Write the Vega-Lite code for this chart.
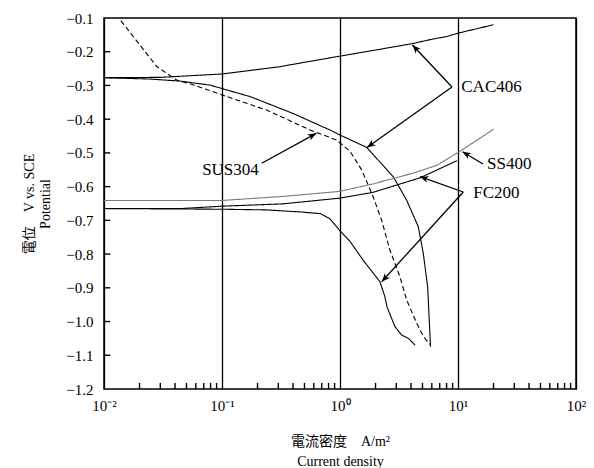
{
  "$schema": "https://vega.github.io/schema/vega-lite/v6.json",
  "width": 472,
  "height": 371,
  "autosize": "none",
  "padding": {"left": 104, "top": 18, "right": 18, "bottom": 79},
  "background": "white",
  "config": {
    "view": {"stroke": "black", "strokeWidth": 1.5},
    "font": "Liberation Serif, Noto Sans CJK JP"
  },
  "resolve": {"axis": {"x": "independent", "y": "independent"}},
  "datasets": {
    "curves": [
      {"series": "CAC406a", "x": 0.01, "y": -0.277},
      {"series": "CAC406a", "x": 0.03, "y": -0.276},
      {"series": "CAC406a", "x": 0.1, "y": -0.266},
      {"series": "CAC406a", "x": 0.3, "y": -0.245},
      {"series": "CAC406a", "x": 1, "y": -0.213},
      {"series": "CAC406a", "x": 2, "y": -0.195},
      {"series": "CAC406a", "x": 4.1, "y": -0.176},
      {"series": "CAC406a", "x": 6, "y": -0.163},
      {"series": "CAC406a", "x": 8, "y": -0.155},
      {"series": "CAC406a", "x": 10, "y": -0.145},
      {"series": "CAC406a", "x": 20, "y": -0.12},
      {"series": "CAC406b", "x": 0.01, "y": -0.277},
      {"series": "CAC406b", "x": 0.0245, "y": -0.281},
      {"series": "CAC406b", "x": 0.044, "y": -0.287},
      {"series": "CAC406b", "x": 0.079, "y": -0.299},
      {"series": "CAC406b", "x": 0.173, "y": -0.333},
      {"series": "CAC406b", "x": 0.4, "y": -0.383},
      {"series": "CAC406b", "x": 0.82, "y": -0.432},
      {"series": "CAC406b", "x": 1.0, "y": -0.447},
      {"series": "CAC406b", "x": 1.69, "y": -0.484},
      {"series": "CAC406b", "x": 2.18, "y": -0.527},
      {"series": "CAC406b", "x": 2.83, "y": -0.571},
      {"series": "CAC406b", "x": 3.67, "y": -0.64},
      {"series": "CAC406b", "x": 4.61, "y": -0.719},
      {"series": "CAC406b", "x": 5.08, "y": -0.798},
      {"series": "CAC406b", "x": 5.53, "y": -0.897},
      {"series": "CAC406b", "x": 5.85, "y": -1.075},
      {"series": "SUS304", "x": 0.0139, "y": -0.108},
      {"series": "SUS304", "x": 0.028, "y": -0.244},
      {"series": "SUS304", "x": 0.0413, "y": -0.284},
      {"series": "SUS304", "x": 0.057, "y": -0.298},
      {"series": "SUS304", "x": 0.1, "y": -0.328},
      {"series": "SUS304", "x": 0.239, "y": -0.373},
      {"series": "SUS304", "x": 0.557, "y": -0.432},
      {"series": "SUS304", "x": 0.938, "y": -0.462},
      {"series": "SUS304", "x": 1.22, "y": -0.496},
      {"series": "SUS304", "x": 1.53, "y": -0.551},
      {"series": "SUS304", "x": 1.91, "y": -0.63},
      {"series": "SUS304", "x": 2.25, "y": -0.699},
      {"series": "SUS304", "x": 2.65, "y": -0.788},
      {"series": "SUS304", "x": 3.22, "y": -0.867},
      {"series": "SUS304", "x": 3.67, "y": -0.936},
      {"series": "SUS304", "x": 4.47, "y": -1.005},
      {"series": "SUS304", "x": 4.92, "y": -1.034},
      {"series": "SUS304", "x": 5.3, "y": -1.052},
      {"series": "SUS304", "x": 5.81, "y": -1.068},
      {"series": "SS400", "x": 0.01, "y": -0.641},
      {"series": "SS400", "x": 0.1, "y": -0.641},
      {"series": "SS400", "x": 0.33, "y": -0.629},
      {"series": "SS400", "x": 1, "y": -0.614},
      {"series": "SS400", "x": 1.9, "y": -0.592},
      {"series": "SS400", "x": 4.16, "y": -0.56},
      {"series": "SS400", "x": 6.6, "y": -0.537},
      {"series": "SS400", "x": 10, "y": -0.499},
      {"series": "SS400", "x": 20, "y": -0.43},
      {"series": "FC200a", "x": 0.01, "y": -0.665},
      {"series": "FC200a", "x": 0.045, "y": -0.665},
      {"series": "FC200a", "x": 0.1, "y": -0.658},
      {"series": "FC200a", "x": 0.33, "y": -0.651},
      {"series": "FC200a", "x": 1, "y": -0.634},
      {"series": "FC200a", "x": 1.9, "y": -0.617},
      {"series": "FC200a", "x": 4.76, "y": -0.574},
      {"series": "FC200a", "x": 9.8, "y": -0.523},
      {"series": "FC200b", "x": 0.01, "y": -0.665},
      {"series": "FC200b", "x": 0.1, "y": -0.667},
      {"series": "FC200b", "x": 0.24, "y": -0.669},
      {"series": "FC200b", "x": 0.46, "y": -0.675},
      {"series": "FC200b", "x": 0.68, "y": -0.68},
      {"series": "FC200b", "x": 0.82, "y": -0.695},
      {"series": "FC200b", "x": 1.0, "y": -0.731},
      {"series": "FC200b", "x": 1.22, "y": -0.763},
      {"series": "FC200b", "x": 1.57, "y": -0.818},
      {"series": "FC200b", "x": 2.18, "y": -0.882},
      {"series": "FC200b", "x": 2.4, "y": -0.926},
      {"series": "FC200b", "x": 2.5, "y": -0.956},
      {"series": "FC200b", "x": 2.92, "y": -1.015},
      {"series": "FC200b", "x": 3.33, "y": -1.04},
      {"series": "FC200b", "x": 3.8, "y": -1.05},
      {"series": "FC200b", "x": 4.33, "y": -1.07}
    ],
    "arrows": [
      {"id": 1, "x": 8.89, "y": -0.3046, "tx": 4.11, "ty": -0.18},
      {"id": 2, "x": 8.89, "y": -0.3046, "tx": 1.694, "ty": -0.484},
      {"id": 3, "x": 0.217, "y": -0.5308, "tx": 0.6297, "ty": -0.4419},
      {"id": 4, "x": 16.29, "y": -0.5329, "tx": 10.92, "ty": -0.4964},
      {"id": 5, "x": 11.09, "y": -0.6159, "tx": 4.764, "ty": -0.5705},
      {"id": 6, "x": 11.09, "y": -0.6159, "tx": 2.256, "ty": -0.8819}
    ],
    "labels": [
      {"text": "CAC406", "x": 19.23, "y": -0.3046},
      {"text": "SUS304", "x": 0.118, "y": -0.5507},
      {"text": "SS400", "x": 27.2, "y": -0.5329},
      {"text": "FC200", "x": 21.12, "y": -0.618}
    ],
    "yticks": [
      {"y": -1.1}, {"y": -1.0}, {"y": -0.9}, {"y": -0.8}, {"y": -0.7}, {"y": -0.6},
      {"y": -0.5}, {"y": -0.4}, {"y": -0.3}, {"y": -0.2}
    ],
    "xticks": [
      {"x": 0.02}, {"x": 0.03}, {"x": 0.04}, {"x": 0.05}, {"x": 0.06}, {"x": 0.07}, {"x": 0.08}, {"x": 0.09},
      {"x": 0.2}, {"x": 0.3}, {"x": 0.4}, {"x": 0.5}, {"x": 0.6}, {"x": 0.7}, {"x": 0.8}, {"x": 0.9},
      {"x": 2}, {"x": 3}, {"x": 4}, {"x": 5}, {"x": 6}, {"x": 7}, {"x": 8}, {"x": 9},
      {"x": 20}, {"x": 30}, {"x": 40}, {"x": 50}, {"x": 60}, {"x": 70}, {"x": 80}, {"x": 90}
    ]
  },
  "layer": [
    {
      "data": {"name": "curves"},
      "mark": {"type": "line", "clip": true},
      "encoding": {
        "x": {
          "field": "x", "type": "quantitative",
          "scale": {"type": "log", "domain": [0.01, 100], "nice": false},
          "axis": {
            "orient": "bottom",
            "title": ["電流密度　A/m²", "Current density"],
            "titleFont": "Liberation Serif, Noto Sans CJK JP",
            "titleFontSize": 14,
            "titleFontWeight": "normal",
            "titleColor": "black",
            "titlePadding": 21,
            "titleLineHeight": 20,
            "values": [0.01, 0.1, 1, 10, 100],
            "labelExpr": "datum.value == 0.01 ? '10⁻²' : datum.value == 0.1 ? '10⁻¹' : datum.value == 1 ? '10⁰' : datum.value == 10 ? '10¹' : datum.value == 100 ? '10²' : ''",
            "labelFont": "Liberation Serif",
            "labelFontSize": 15,
            "labelColor": "black",
            "labelOverlap": false,
            "labelFlush": false,
            "labelPadding": 9,
            "ticks": false,
            "domain": false,
            "grid": true,
            "gridColor": "black",
            "gridWidth": 1.3,
            "gridOpacity": 1
          }
        },
        "y": {
          "field": "y", "type": "quantitative",
          "scale": {"domain": [-1.2, -0.1], "nice": false, "zero": false},
          "axis": {
            "orient": "left",
            "title": ["電位　V vs. SCE", "Potential"],
            "titleFont": "Liberation Serif, Noto Sans CJK JP",
            "titleFontSize": 14,
            "titleFontWeight": "normal",
            "titleColor": "black",
            "titlePadding": 13,
            "titleLineHeight": 16,
            "values": [-1.2, -1.1, -1.0, -0.9, -0.8, -0.7, -0.6, -0.5, -0.4, -0.3, -0.2, -0.1],
            "format": ".1f",
            "labelFont": "Liberation Serif",
            "labelFontSize": 15,
            "labelColor": "black",
            "labelOverlap": false,
            "labelFlush": false,
            "labelPadding": 11,
            "ticks": false,
            "domain": false,
            "grid": false
          }
        },
        "color": {
          "field": "series", "type": "nominal", "legend": null,
          "scale": {"domain": ["CAC406a", "CAC406b", "SUS304", "SS400", "FC200a", "FC200b"], "range": ["black", "black", "black", "#7a7a7a", "black", "black"]}
        },
        "strokeDash": {
          "field": "series", "type": "nominal", "legend": null,
          "scale": {"domain": ["CAC406a", "CAC406b", "SUS304", "SS400", "FC200a", "FC200b"], "range": [[1, 0], [1, 0], [5, 3], [1, 0], [1, 0], [1, 0]]}
        },
        "strokeWidth": {
          "field": "series", "type": "nominal", "legend": null,
          "scale": {"domain": ["CAC406a", "CAC406b", "SUS304", "SS400", "FC200a", "FC200b"], "range": [1.1, 1.1, 1.3, 2.5, 1.5, 1.5]}
        }
      }
    },
    {
      "data": {"name": "yticks"},
      "mark": {"type": "rule", "color": "black", "strokeWidth": 1.4},
      "encoding": {
        "x": {"datum": 0.01, "type": "quantitative", "axis": null},
        "x2": {"datum": 0.0113},
        "y": {"field": "y", "type": "quantitative", "axis": null}
      }
    },
    {
      "data": {"name": "xticks"},
      "mark": {"type": "rule", "color": "black", "strokeWidth": 1.4},
      "encoding": {
        "x": {"field": "x", "type": "quantitative", "axis": null},
        "y": {"datum": -1.2, "type": "quantitative", "axis": null},
        "y2": {"datum": -1.182}
      }
    },
    {
      "data": {"name": "arrows"},
      "mark": {"type": "rule", "color": "black", "strokeWidth": 1.3},
      "encoding": {
        "x": {"field": "x", "type": "quantitative", "axis": null},
        "y": {"field": "y", "type": "quantitative", "axis": null},
        "x2": {"field": "tx"},
        "y2": {"field": "ty"}
      }
    },
    {
      "data": {"name": "arrows"},
      "transform": [{"filter": "datum.id == 1"}],
      "mark": {"type": "point", "shape": "M0,0L-1,-0.4L-0.7,0L-1,0.4Z", "filled": true, "color": "black", "opacity": 1, "size": 300, "angle": 226.8},
      "encoding": {"x": {"field": "tx", "type": "quantitative", "axis": null}, "y": {"field": "ty", "type": "quantitative", "axis": null}}
    },
    {
      "data": {"name": "arrows"},
      "transform": [{"filter": "datum.id == 2"}],
      "mark": {"type": "point", "shape": "M0,0L-1,-0.4L-0.7,0L-1,0.4Z", "filled": true, "color": "black", "opacity": 1, "size": 300, "angle": 144.6},
      "encoding": {"x": {"field": "tx", "type": "quantitative", "axis": null}, "y": {"field": "ty", "type": "quantitative", "axis": null}}
    },
    {
      "data": {"name": "arrows"},
      "transform": [{"filter": "datum.id == 3"}],
      "mark": {"type": "point", "shape": "M0,0L-1,-0.4L-0.7,0L-1,0.4Z", "filled": true, "color": "black", "opacity": 1, "size": 300, "angle": -28.8},
      "encoding": {"x": {"field": "tx", "type": "quantitative", "axis": null}, "y": {"field": "ty", "type": "quantitative", "axis": null}}
    },
    {
      "data": {"name": "arrows"},
      "transform": [{"filter": "datum.id == 4"}],
      "mark": {"type": "point", "shape": "M0,0L-1,-0.4L-0.7,0L-1,0.4Z", "filled": true, "color": "black", "opacity": 1, "size": 300, "angle": 211},
      "encoding": {"x": {"field": "tx", "type": "quantitative", "axis": null}, "y": {"field": "ty", "type": "quantitative", "axis": null}}
    },
    {
      "data": {"name": "arrows"},
      "transform": [{"filter": "datum.id == 5"}],
      "mark": {"type": "point", "shape": "M0,0L-1,-0.4L-0.7,0L-1,0.4Z", "filled": true, "color": "black", "opacity": 1, "size": 300, "angle": 199.5},
      "encoding": {"x": {"field": "tx", "type": "quantitative", "axis": null}, "y": {"field": "ty", "type": "quantitative", "axis": null}}
    },
    {
      "data": {"name": "arrows"},
      "transform": [{"filter": "datum.id == 6"}],
      "mark": {"type": "point", "shape": "M0,0L-1,-0.4L-0.7,0L-1,0.4Z", "filled": true, "color": "black", "opacity": 1, "size": 300, "angle": 132.3},
      "encoding": {"x": {"field": "tx", "type": "quantitative", "axis": null}, "y": {"field": "ty", "type": "quantitative", "axis": null}}
    },
    {
      "data": {"name": "labels"},
      "mark": {"type": "text", "font": "Liberation Serif", "fontSize": 17, "color": "black", "align": "center", "baseline": "middle"},
      "encoding": {
        "x": {"field": "x", "type": "quantitative", "axis": null},
        "y": {"field": "y", "type": "quantitative", "axis": null},
        "text": {"field": "text"}
      }
    }
  ]
}
